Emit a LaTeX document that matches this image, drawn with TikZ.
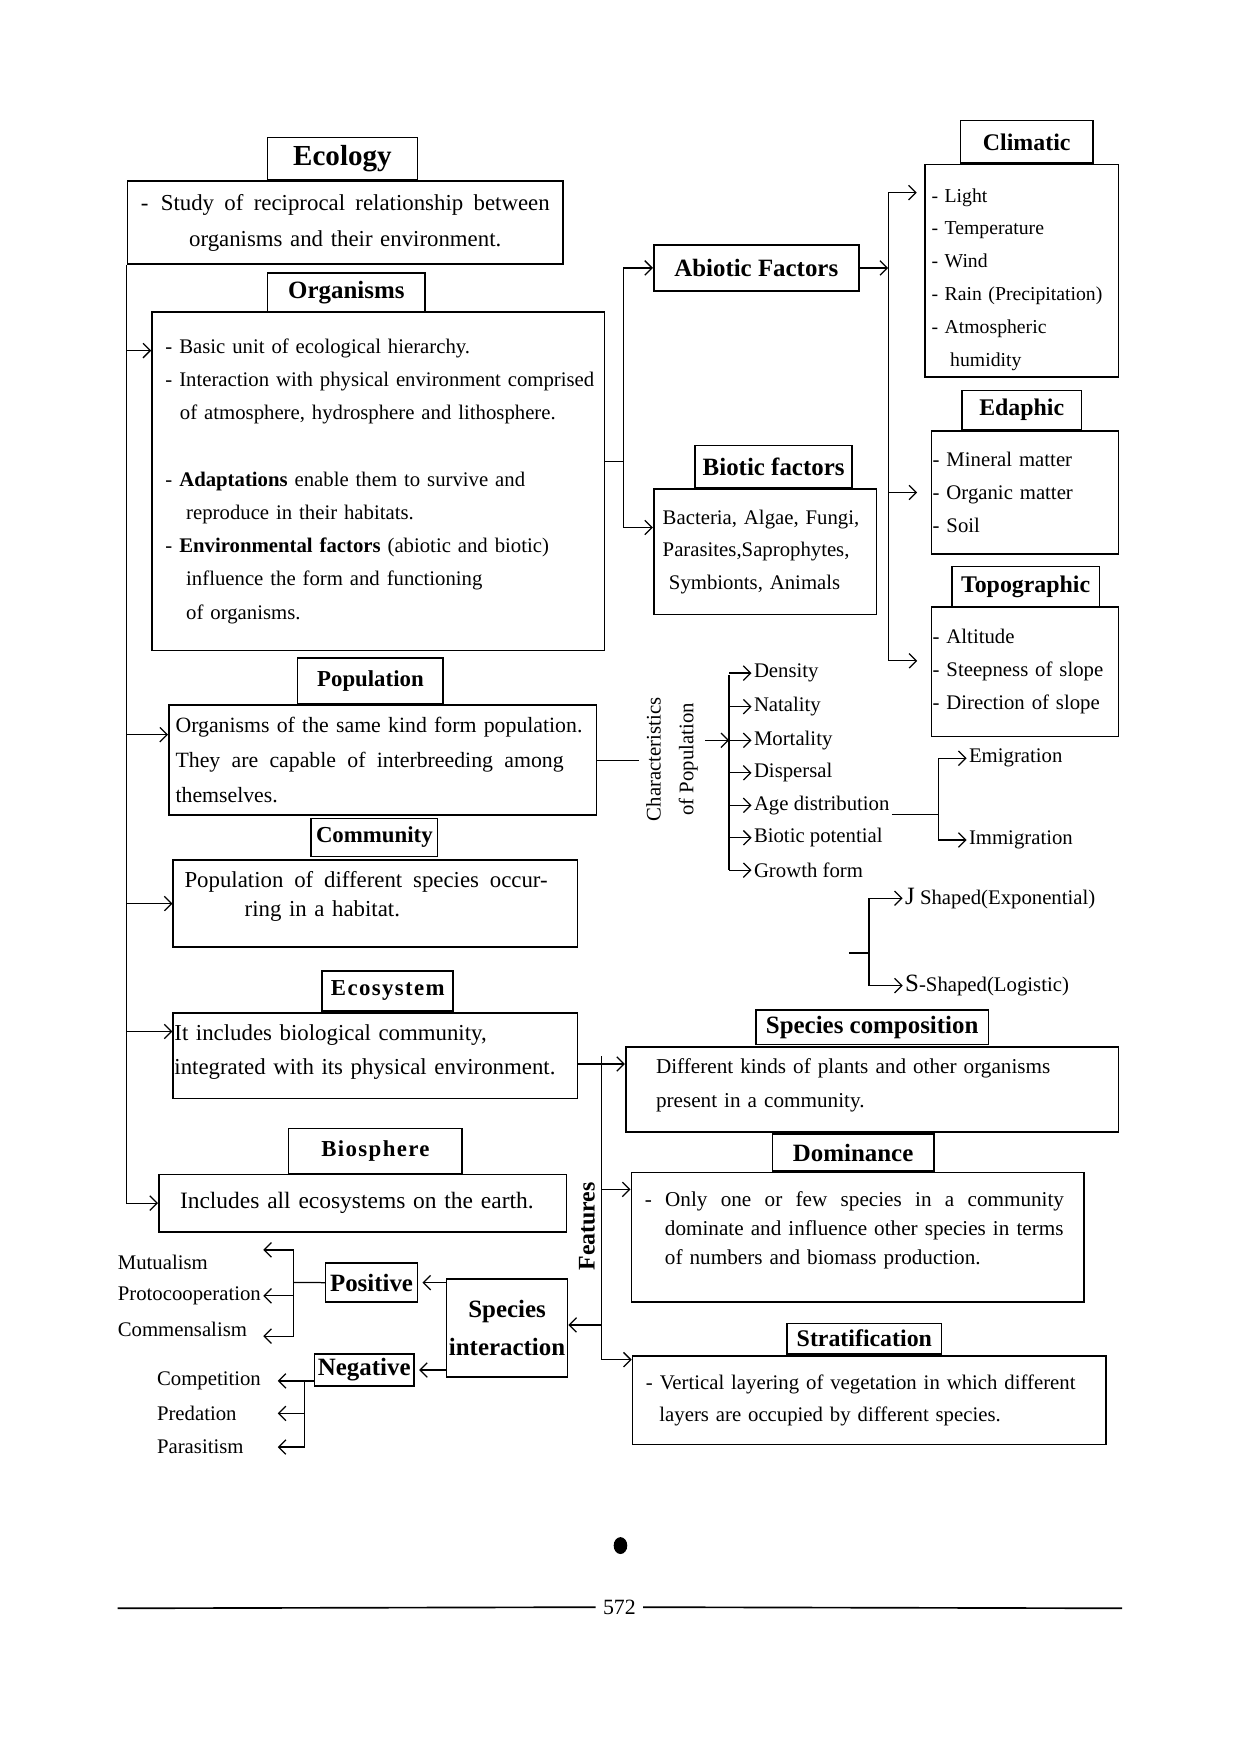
\documentclass[tikz,border=0pt]{standalone}
\usepackage{fontspec}
\setmainfont{Liberation Serif}
\usetikzlibrary{arrows.meta}
\newdimen\pxu
\pxu=0.018970cm
\newcommand\spreadline[2]{\makebox[#1][s]{\spaceskip=0pt\relax#2}}

\begin{document}
\begin{tikzpicture}[
    x=0.018970cm, y=-0.018970cm,
    >={Straight Barb[length=3.5pt,width=7pt]},
    tab/.style={draw, thick, anchor=north west, inner sep=0pt, align=center, font=\bfseries\fontsize{12}{14}\selectfont},
    tabsize/.style 2 args={minimum width=#1*\pxu, minimum height=#2*\pxu},
    box/.style n args={3}{draw, thick, anchor=north west, align=left, inner ysep=0pt, inner xsep=#3*\pxu, minimum width=#1*\pxu, minimum height=#2*\pxu, text width=(#1-2*#3)*\pxu},
    item/.style={anchor=west, inner sep=1pt, font=\fontsize{10}{12}\selectfont},
    line/.style={draw, semithick, ->},
    link/.style={draw, semithick}
]
    \useasboundingbox (0,0) rectangle (1107,1567);

    % Ecology
    \node [tab, tabsize={134}{38}, font=\bfseries\fontsize{14}{16}\selectfont] (ecology) at (238,122) {Ecology};
    \node [box={389}{74}{8}, align=center, font=\fontsize{11}{17.3}\selectfont] (defbox) at (113,161)
        {\spreadline{197pt}{-\hspace{6pt}Study of reciprocal relationship between}\\organisms and their environment.};

    % Organisms
    \node [tab, tabsize={141}{35}] (orgtab) at (238,243) {Organisms};
    \node [box={404}{302}{12}, font=\fontsize{10}{16}\selectfont] (orgbox) at (135,278)
        {- Basic unit of ecological hierarchy.\\
         \mbox{- Interaction with physical environment comprised}\\
         \hspace*{7pt}of atmosphere, hydrosphere and lithosphere.\\[16pt]
         - \textbf{Adaptations} enable them to survive and\\
         \hspace*{10pt}reproduce in their habitats.\\
         - \textbf{Environmental factors} (abiotic and biotic)\\
         \hspace*{10pt}influence the form and functioning\\
         \hspace*{10pt}of organisms.};

    % Abiotic and biotic factors
    \node [tab, tabsize={183}{41}] (abiotic) at (583,218) {Abiotic Factors};
    \node [tab, tabsize={140}{38}] (biotab) at (620,397) {Biotic factors};
    \node [box={199}{112}{8}, font=\fontsize{10}{15.7}\selectfont] (biobox) at (583,436)
        {Bacteria, Algae, Fungi,\\Parasites,Saprophytes,\\\hspace*{3pt}Symbionts, Animals};

    \node [tab, tabsize={118}{38}, font=\bfseries\fontsize{11.5}{14}\selectfont] (climtab) at (857,107) {Climatic};
    \node [box={173}{190}{6}, font=\fontsize{9.5}{15.8}\selectfont] (climbox) at (825,146)
        {\rule{0pt}{15pt}- Light\\- Temperature\\- Wind\\- Rain (Precipitation)\\- Atmospheric\\\hspace*{9pt}humidity};
    \node [tab, tabsize={107}{35}, font=\bfseries\fontsize{11.5}{14}\selectfont] (edtab) at (858,348) {Edaphic};
    \node [box={167}{110}{1}, font=\fontsize{10}{16}\selectfont] (edbox) at (831,384)
        {- Mineral matter\\- Organic matter\\- Soil};
    \node [tab, tabsize={132}{36}, font=\bfseries\fontsize{11.5}{14}\selectfont] (topotab) at (849,505) {Topographic};
    \node [box={167}{116}{1}, font=\fontsize{10}{16}\selectfont] (topobox) at (831,541)
        {- Altitude\\- Steepness of slope\\- Direction of slope};

    % Population
    \node [tab, tabsize={130}{41}, font=\bfseries\fontsize{11}{13}\selectfont] (poptab) at (265,587) {Population};
    \node [box={382}{98}{6}, font=\fontsize{10.5}{17}\selectfont] (popbox) at (150,629)
        {\mbox{Organisms of the same kind form population.}\\\spreadline{187pt}{They are capable of interbreeding among}\\themselves.};
    \node [rotate=90, align=center, font=\fontsize{10}{15.7}\selectfont] (charlabel) at (600,678) {Characteristics\\of Population};

    \node [item] (dens) at (671,601) {Density};
    \node [item] (nat) at (671,631) {Natality};
    \node [item] (mort) at (671,661) {Mortality};
    \node [item] (disp) at (671,690) {Dispersal};
    \node [item] (age) at (671,719) {Age distribution};
    \node [item] (bpot) at (671,748) {Biotic potential};
    \node [item] (grow) at (671,777) {Growth form};
    \node [item] (emig) at (863,677) {Emigration};
    \node [item] (immig) at (863,750) {Immigration};
    \node [item] (jshape) at (806,802) {{\large J} Shaped(Exponential)};
    \node [item] (sshape) at (806,880) {{\large S}-Shaped(Logistic)};

    % Community, ecosystem, biosphere
    \node [tab, tabsize={113}{34}, font=\bfseries\fontsize{11}{13}\selectfont] (comtab) at (277,730) {Community};
    \node [box={361}{78}{10}, font=\fontsize{11}{14}\selectfont] (combox) at (154,767)
        {\spreadline{175pt}{Population of different species occur-}\\\hspace*{29pt}ring in a habitat.\rule[-9pt]{0pt}{0pt}};
    \node [tab, tabsize={117}{36}, font=\bfseries\fontsize{11}{13}\selectfont\addfontfeature{LetterSpace=6}] (ecotab) at (287,866) {Ecosystem};
    \node [box={361}{76}{1}, font=\fontsize{11}{16.7}\selectfont] (ecobox) at (154,904)
        {It includes biological community,\\integrated with its physical environment.\rule[-6pt]{0pt}{0pt}};
    \node [tab, tabsize={155}{40}, font=\bfseries\fontsize{11}{13}\selectfont\addfontfeature{LetterSpace=6}] (bstab) at (257,1007) {Biosphere};
    \node [box={364}{51}{19}, font=\fontsize{11.3}{14}\selectfont] (bsbox) at (141,1048)
        {Includes all ecosystems on the earth.};

    % Features of community
    \node [rotate=90, font=\bfseries\fontsize{11.5}{13}\selectfont] (featlabel) at (524,1095) {Features};
    \node [tab, tabsize={208}{31}] (sctab) at (674,901) {Species composition};
    \node [box={440}{76}{27}, font=\fontsize{10.2}{16.2}\selectfont] (scbox) at (558,934)
        {Different kinds of plants and other organisms\\present in a community.\rule[-6pt]{0pt}{0pt}};
    \node [tab, tabsize={144}{33}] (domtab) at (689,1012) {Dominance};
    \node [box={404}{116}{12}, font=\fontsize{10.2}{14}\selectfont] (dombox) at (563,1046)
        {\spreadline{202pt}{- Only one or few species in a community}\\
         \hspace*{9.7pt}\mbox{dominate and influence other species in terms}\\
         \hspace*{9.7pt}of numbers and biomass production.\rule[-9pt]{0pt}{0pt}};
    \node [tab, tabsize={138}{27}, font=\bfseries\fontsize{11.5}{13}\selectfont] (strattab) at (702,1181) {Stratification};
    \node [box={423}{79}{12}, font=\fontsize{10}{15.7}\selectfont] (stratbox) at (564,1210)
        {- Vertical layering of vegetation in which different\\\hspace*{6.5pt}layers are occupied by different species.};

    % Species interaction
    \node [tab, tabsize={108}{88}, font=\bfseries\fontsize{12}{18.4}\selectfont] (sibox) at (398,1141) {Species\\interaction};
    \node [tab, tabsize={82}{35}] (posbox) at (290,1127) {Positive};
    \node [tab, tabsize={89}{29}] (negbox) at (280,1208) {Negative};
    \node [item] (mutu) at (103,1127) {Mutualism};
    \node [item] (proto) at (103,1157) {Protocooperation};
    \node [item] (comm) at (103,1187) {Commensalism};
    \node [item] (compet) at (138,1233) {Competition};
    \node [item] (pred) at (138,1262) {Predation};
    \node [item] (paras) at (138,1292) {Parasitism};

    % main spine
    \path [line] (defbox.south west) |- (bsbox.west);
    \path [line] (defbox.south west |- 0,313) -- (orgbox.west |- 0,313);
    \path [line] (defbox.south west |- 0,656) -- (popbox.west |- 0,656);
    \path [line] (defbox.south west |- combox.west) -- (combox.west);
    \path [line] (defbox.south west |- 0,921) -- (ecobox.west |- 0,921);

    % organisms to factors
    \coordinate (orgfork) at (557,412);
    \path [link] (orgbox.east |- orgfork) -- (orgfork);
    \path [line] (orgfork) |- (abiotic.west);
    \path [line] (orgfork) |- (biobox.west |- 0,471);

    \coordinate (abspine) at (793,172);
    \path [line] (abiotic.east) -- (abspine |- abiotic.east);
    \path [link] (abspine) -- (abspine |- 0,590);
    \path [line, shorten >=3.5pt] (abspine) -- (climbox.west |- abspine);
    \path [line, shorten >=6.5pt] (abspine |- edbox.west) -- (edbox.west);
    \path [line, shorten >=6.5pt] (abspine |- 0,590) -- (topobox.west |- 0,590);

    % characteristics of population
    \coordinate (charspine) at (651,603);
    \path [link] (popbox.east) -- (popbox.east -| charlabel.north);
    \path [line] (charlabel.south |- mort.west) -- (charspine |- mort.west);
    \path [link] (charspine) -- (charspine |- grow.west);
    \path [line] (charspine |- dens.west) -- (dens.west);
    \path [line] (charspine |- nat.west) -- (nat.west);
    \path [line] (charspine |- mort.west) -- (mort.west);
    \path [line] (charspine |- disp.west) -- (disp.west);
    \path [line] (charspine |- age.west) -- (age.west);
    \path [line] (charspine |- bpot.west) -- (bpot.west);
    \path [line] (charspine |- grow.west) -- (grow.west);

    \coordinate (agefork) at (838,727);
    \path [link] (age.east |- agefork) -- (agefork);
    \path [line] (agefork) |- (emig.west);
    \path [line] (agefork) |- (immig.west);

    \coordinate (growstub) at (758,851);
    \coordinate (growfork) at (776,851);
    \path [link] (growstub) -- (growfork);
    \path [line] (growfork) |- (jshape.west);
    \path [line] (growfork) |- (sshape.west);

    % features
    \coordinate (featspine) at (537,943);
    \path [line] (ecobox.east |- 0,950) -- (scbox.west |- 0,950);
    \path [line] (featspine) |- (stratbox.west |- 0,1214);
    \path [line] (featspine |- 0,1062) -- (dombox.west |- 0,1062);
    \path [line] (featspine |- 0,1183) -- (sibox.east |- 0,1183);

    % interactions
    \path [line, shorten >=2pt] (sibox.west |- posbox.east) -- (posbox.east);
    \path [line, shorten >=2pt] (sibox.west |- negbox.east) -- (negbox.east);

    \coordinate (posfork) at (262,1145);
    \path [link] (posbox.west) -- (posfork);
    \path [line] (posfork) |- (proto.east |- 0,1116);
    \path [line] (posfork) |- (proto.east);
    \path [line] (posfork) |- (proto.east |- 0,1193);

    \coordinate (negfork) at (272,1233);
    \coordinate (negtip) at (248,1233);
    \path [line] (negbox.west |- negtip) -- (negtip);
    \path [line] (negfork) |- (negtip |- pred.east);
    \path [line] (negfork) |- (negtip |- paras.east);

    % page foot
    \fill (554,1380) ellipse [x radius=0.115cm, y radius=0.143cm];
    \node [font=\fontsize{10.5}{12}\selectfont] (pageno) at (553,1435) {572};
    \coordinate (rulestart) at (105,1436);
    \coordinate (ruleend) at (1002,1436);
    \draw [thick] (rulestart) -- (pageno.west);
    \draw [thick] (pageno.east) -- (ruleend);
\end{tikzpicture}
\end{document}
